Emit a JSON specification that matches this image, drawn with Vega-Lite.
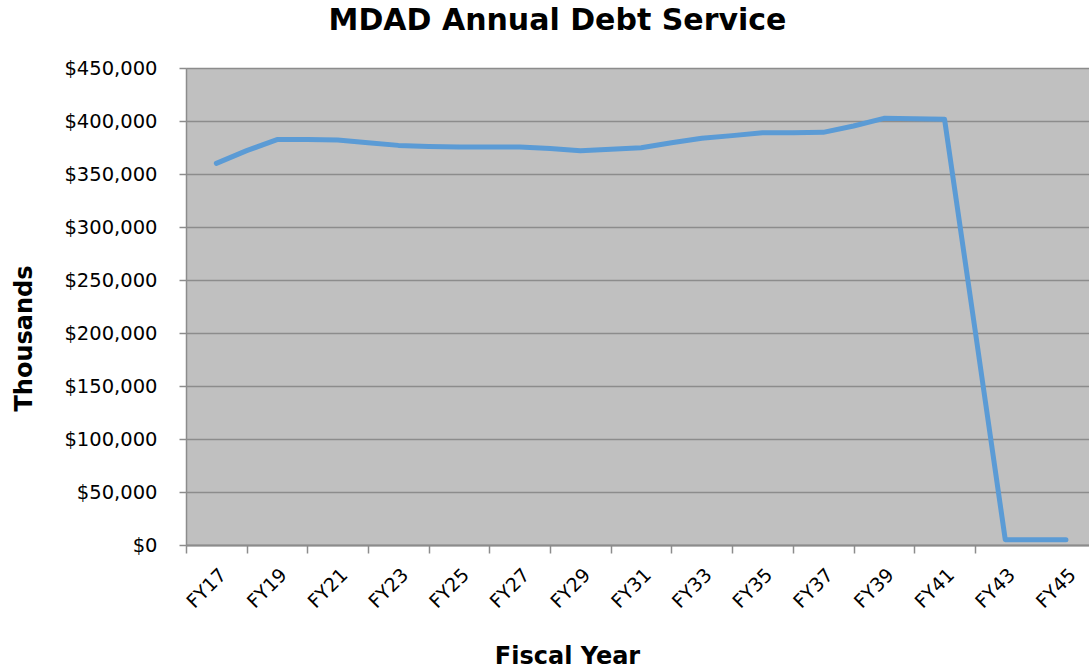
{
  "$schema": "https://vega.github.io/schema/vega-lite/v6.json",
  "width": 903,
  "height": 477,
  "autosize": {"type": "none"},
  "padding": {"left": 186, "top": 68, "right": 0, "bottom": 124},
  "background": "white",
  "config": {"view": {"fill": "#c0c0c0", "stroke": null}, "font": "DejaVu Sans"},
  "title": {
    "text": "MDAD Annual Debt Service",
    "fontSize": 30,
    "fontWeight": "bold",
    "font": "DejaVu Sans",
    "color": "#000000",
    "frame": "group",
    "anchor": "middle",
    "dx": -80,
    "dy": 29,
    "baseline": "alphabetic",
    "offset": 27
  },
  "data": {
    "values": [
      {"fy": "FY17", "year": 2017, "debt_service": 360000},
      {"fy": "FY18", "year": 2018, "debt_service": 372000},
      {"fy": "FY19", "year": 2019, "debt_service": 382500},
      {"fy": "FY20", "year": 2020, "debt_service": 382500},
      {"fy": "FY21", "year": 2021, "debt_service": 382000},
      {"fy": "FY22", "year": 2022, "debt_service": 379500},
      {"fy": "FY23", "year": 2023, "debt_service": 377000},
      {"fy": "FY24", "year": 2024, "debt_service": 376000},
      {"fy": "FY25", "year": 2025, "debt_service": 375500},
      {"fy": "FY26", "year": 2026, "debt_service": 375500},
      {"fy": "FY27", "year": 2027, "debt_service": 375500},
      {"fy": "FY28", "year": 2028, "debt_service": 374000},
      {"fy": "FY29", "year": 2029, "debt_service": 372000},
      {"fy": "FY30", "year": 2030, "debt_service": 373300},
      {"fy": "FY31", "year": 2031, "debt_service": 374800},
      {"fy": "FY32", "year": 2032, "debt_service": 379500},
      {"fy": "FY33", "year": 2033, "debt_service": 383700},
      {"fy": "FY34", "year": 2034, "debt_service": 386200},
      {"fy": "FY35", "year": 2035, "debt_service": 389000},
      {"fy": "FY36", "year": 2036, "debt_service": 389000},
      {"fy": "FY37", "year": 2037, "debt_service": 389300},
      {"fy": "FY38", "year": 2038, "debt_service": 395300},
      {"fy": "FY39", "year": 2039, "debt_service": 402500},
      {"fy": "FY40", "year": 2040, "debt_service": 402200},
      {"fy": "FY41", "year": 2041, "debt_service": 401600},
      {"fy": "FY42", "year": 2042, "debt_service": 204000},
      {"fy": "FY43", "year": 2043, "debt_service": 5000},
      {"fy": "FY44", "year": 2044, "debt_service": 5000},
      {"fy": "FY45", "year": 2045, "debt_service": 5000}
    ]
  },
  "mark": {"type": "line", "color": "#5b9bd5", "strokeWidth": 5, "strokeCap": "round", "strokeJoin": "round"},
  "encoding": {
    "x": {
      "field": "year",
      "type": "quantitative",
      "scale": {"domain": [2016, 2045.76], "nice": false, "zero": false},
      "axis": {
        "values": [2016, 2017, 2018, 2019, 2020, 2021, 2022, 2023, 2024, 2025, 2026, 2027, 2028, 2029, 2030, 2031, 2032, 2033, 2034, 2035, 2036, 2037, 2038, 2039, 2040, 2041, 2042, 2043, 2044, 2045],
        "labelExpr": "datum.value % 2 == 1 ? 'FY' + (datum.value - 2000) : ''",
        "labelAngle": -45,
        "labelFontSize": 19,
        "labelColor": "#000000",
        "labelPadding": 12,
        "labelFlush": false,
        "labelOverlap": false,
        "labelBound": false,
        "tickSize": 8,
        "tickWidth": 1.5,
        "tickColor": "#8c8c8c",
        "tickOpacity": {"condition": {"test": "datum.value % 2 == 1 || datum.value > 2042", "value": 0}, "value": 1},
        "domainColor": "#8c8c8c",
        "domainWidth": 2,
        "grid": false,
        "title": "Fiscal Year",
        "titleFontSize": 24,
        "titleFontWeight": "bold",
        "titleColor": "#000000",
        "titleX": 381,
        "titleY": 118,
        "titleBaseline": "alphabetic",
        "titleAlign": "center"
      }
    },
    "y": {
      "field": "debt_service",
      "type": "quantitative",
      "scale": {"domain": [0, 450000], "nice": false},
      "axis": {
        "values": [0, 50000, 100000, 150000, 200000, 250000, 300000, 350000, 400000, 450000],
        "format": "$,.0f",
        "labelFontSize": 19.5,
        "labelColor": "#000000",
        "labelPadding": 22,
        "tickSize": 7,
        "tickWidth": 1.5,
        "tickColor": "#8c8c8c",
        "domainColor": "#8c8c8c",
        "domainWidth": 1.5,
        "gridColor": "#8c8c8c",
        "gridWidth": 1.5,
        "title": "Thousands",
        "titleFontSize": 24,
        "titleFontWeight": "bold",
        "titleColor": "#000000",
        "titleX": -155,
        "titleY": 270,
        "titleAngle": -90,
        "titleBaseline": "alphabetic",
        "titleAlign": "center"
      }
    }
  }
}
